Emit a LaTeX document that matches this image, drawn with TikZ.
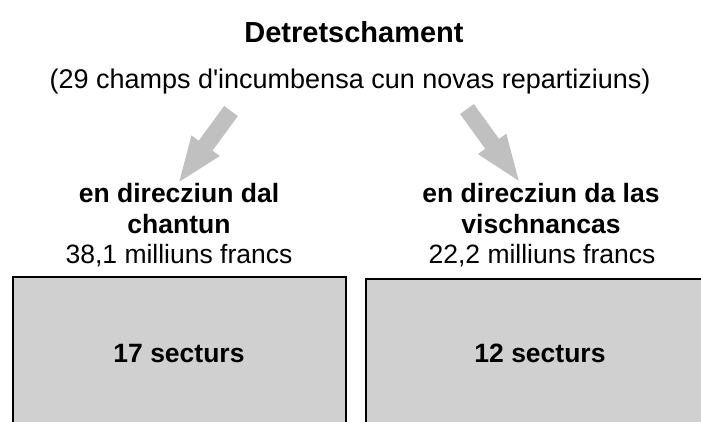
\documentclass[tikz,border=0pt]{standalone}
\usepackage{fontspec}
\setmainfont{Liberation Sans}
\usetikzlibrary{calc}
\definecolor{boxfill}{HTML}{D0D0D0}
\definecolor{arrowfill}{HTML}{C0C0C0}
\tikzset{
  txt/.style={anchor=base, inner sep=0pt, font=\fontsize{26.5}{30}\selectfont},
  boldtxt/.style={txt, font=\fontsize{26.5}{30}\selectfont\bfseries},
  sectorbox/.style={draw=black, line width=2pt, fill=boxfill},
  bigarrow/.style={fill=arrowfill, draw=none}
}
\begin{document}
\begin{tikzpicture}[x=1pt, y=-1pt]
\useasboundingbox (0,0) rectangle (701,421);
\clip (0,0) rectangle (701,421);
\fill[white] (0,0) rectangle (701,421);

% boxes
\draw[sectorbox] (13,277) rectangle (346,440);
\draw[sectorbox] (366,279) rectangle (720,440);

% texts
\node[boldtxt, font=\fontsize{29}{32}\selectfont\bfseries] (title) at (354,42) {Detretschament};
\node[txt, font=\fontsize{27}{30}\selectfont] (sub) at (350,88) {(29 champs d\textquotesingle incumbensa cun novas repartiziuns)};

\node[boldtxt] (l1) at (179,202) {en direcziun dal};
\node[boldtxt] (l2) at (179,233) {chantun};
\node[txt] (l3) at (179,263) {38,1 milliuns francs};

\node[boldtxt] (r1) at (541,202) {en direcziun da las};
\node[boldtxt] (r2) at (541,233) {vischnancas};
\node[txt] (r3) at (542,263) {22,2 milliuns francs};

\node[boldtxt] (s1) at (179,362) {17 secturs};
\node[boldtxt] (s2) at (540,362) {12 secturs};

% arrows
\coordinate (lt) at (231,111);
\coordinate (lh) at (179.3,181.7);
\coordinate (rt) at (467,109);
\coordinate (rh) at (518.7,180.7);

\foreach \t/\h in {lt/lh, rt/rh}{
  \coordinate (hb) at ($(\t)!43pt!(\h)$);
  \fill[bigarrow]
    ($(\t)!8.5pt!90:(\h)$) --
    ($(hb)!8.5pt!90:(\h)$) --
    ($(hb)!17.5pt!90:(\h)$) --
    (\h) --
    ($(hb)!17.5pt!-90:(\h)$) --
    ($(hb)!8.5pt!-90:(\h)$) --
    ($(\t)!8.5pt!-90:(\h)$) -- cycle;
}
\end{tikzpicture}
\end{document}
